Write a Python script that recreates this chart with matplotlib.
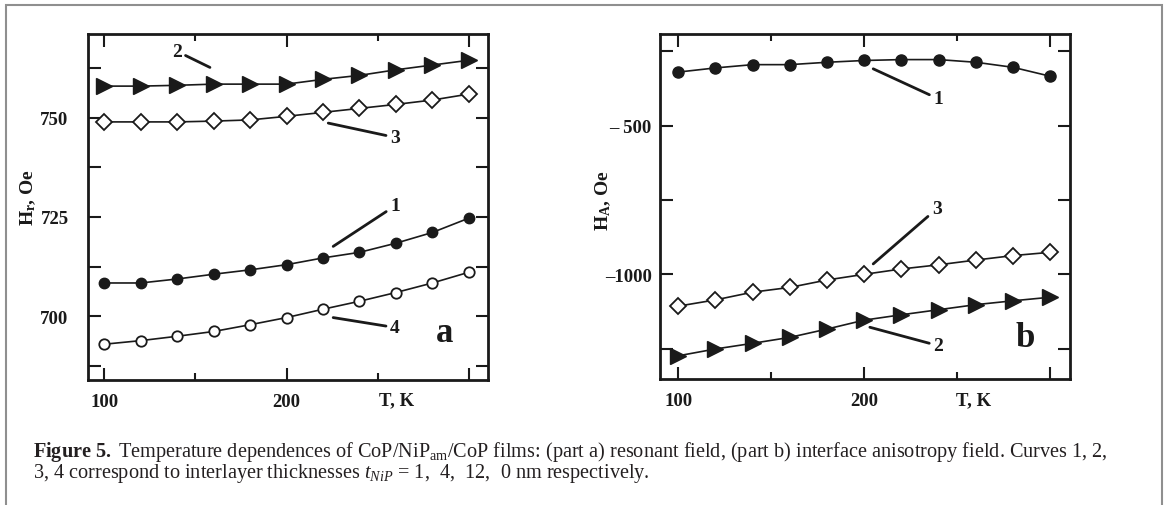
import matplotlib
matplotlib.use('Agg')
import matplotlib.pyplot as plt
from matplotlib.patches import Rectangle

# Temperature points (K)
T = [100, 120, 140, 160, 180, 200, 220, 240, 260, 280, 300]

# Panel a: resonant field Hr (Oe)
hr_1 = [708.4, 708.4, 709.4, 710.6, 711.7, 713.0, 714.7, 716.1, 718.4, 721.1, 724.7]
hr_2 = [757.9, 757.9, 758.1, 758.4, 758.4, 758.4, 759.6, 760.6, 762.0, 763.2, 764.4]
hr_3 = [748.9, 748.9, 748.9, 749.1, 749.4, 750.3, 751.3, 752.3, 753.3, 754.4, 755.9]
hr_4 = [693.0, 693.9, 695.0, 696.2, 697.9, 699.7, 701.8, 703.8, 706.0, 708.4, 711.1]

# Panel b: interface anisotropy field HA (Oe)
ha_1 = [-320, -306, -295, -295, -287, -281, -278, -278, -287, -304, -334]
ha_2 = [-1274, -1251, -1232, -1212, -1184, -1154, -1136, -1119, -1102, -1089, -1077]
ha_3 = [-1107, -1086, -1060, -1044, -1019, -1000, -982, -968, -952, -937, -926]

# fonts
plt.rcParams['font.family'] = ['Liberation Serif', 'DejaVu Serif']
plt.rcParams['mathtext.fontset'] = 'custom'
plt.rcParams['mathtext.rm'] = 'Liberation Serif'
plt.rcParams['mathtext.it'] = 'Liberation Serif:italic'
plt.rcParams['mathtext.bf'] = 'Liberation Serif:bold'

fig = plt.figure(figsize=(11.68, 5.06), dpi=100)
ax_a = fig.add_axes([0.0753, 0.247, 0.3425, 0.6838])
ax_b = fig.add_axes([0.5651, 0.249, 0.3510, 0.6818])

ink = '#1a1a1a'
line_kw = dict(color=ink, lw=1.2)


def style_axes(ax):
    for sp in ax.spines.values():
        sp.set_linewidth(2.0)
        sp.set_color(ink)
    ax.tick_params(which='both', direction='in', top=True, right=True,
                   colors=ink, width=1.5, labelsize=13.5)
    ax.tick_params(which='major', length=9)
    ax.tick_params(axis='x', which='minor', length=5)
    ax.tick_params(axis='y', which='minor', length=9)
    ax.set_xticks([100, 200, 300], ['100', '200', ''])
    ax.set_xticks([150, 250], minor=True)
    ax.tick_params(axis='x', pad=9)
    for lbl in ax.get_xticklabels():
        lbl.set_fontweight('bold')


def callout(ax, label, text_xy, end_xy):
    ax.annotate(label, xy=end_xy, xytext=text_xy, fontsize=14, fontweight='bold',
                color=ink, ha='center', va='center',
                arrowprops=dict(arrowstyle='-', lw=2.0, color=ink, shrinkA=1, shrinkB=0))


# ---------------- panel a ----------------
ax = ax_a
ax.plot(T, hr_2, marker='>', ms=11, mfc=ink, mec=ink, **line_kw)
ax.plot(T, hr_3, marker='D', ms=8, mfc='white', mec=ink, mew=1.3, **line_kw)
ax.plot(T, hr_1, marker='o', ms=7.5, mfc=ink, mec=ink, **line_kw)
ax.plot(T, hr_4, marker='o', ms=7.5, mfc='white', mec=ink, mew=1.3, **line_kw)
ax.set_xlim(91.1, 310.5)
ax.set_ylim(684, 771)
style_axes(ax)
ax.set_yticks([700, 725, 750], ['700', '725', '750'])
ax.set_yticks([687.5, 712.5, 737.5, 762.5], minor=True)
ax.tick_params(axis='y', pad=14)
for lbl in ax.get_yticklabels():
    lbl.set_fontweight('bold')
ax.set_ylabel(r'$\mathbf{H_r}$, Oe', fontsize=14, fontweight='bold', color=ink)
ax.yaxis.set_label_coords(-0.125, 0.53)
ax.set_xlabel('T, K', fontsize=13.5, fontweight='bold', color=ink)
ax.xaxis.set_label_coords(0.772, -0.033)

callout(ax, '2', (139.7, 766.7), (158, 762.6))
callout(ax, '3', (259.5, 745.0), (222.9, 748.6))
callout(ax, '1', (259.5, 727.8), (225.6, 717.6))
callout(ax, '4', (259.5, 697.2), (225.6, 699.7))
ax.text(286.9, 696, 'a', fontsize=25, fontweight='bold', color=ink, ha='center', va='center')

# ---------------- panel b ----------------
ax = ax_b
ax.plot(T, ha_1, marker='o', ms=8, mfc=ink, mec=ink, **line_kw)
ax.plot(T, ha_3, marker='D', ms=8, mfc='white', mec=ink, mew=1.3, **line_kw)
ax.plot(T, ha_2, marker='>', ms=11, mfc=ink, mec=ink, **line_kw)
ax.set_xlim(90.2, 310.6)
ax.set_ylim(-1352, -192)
style_axes(ax)
ax.set_yticks([-1000, -500], ['\u20131000', '\u2013 500'])
ax.set_yticks([-1250, -750, -250], minor=True)
ax.tick_params(axis='y', pad=6)
for lbl in ax.get_yticklabels():
    lbl.set_fontweight('bold')
ax.set_ylabel(r'$\mathbf{H_A}$, Oe', fontsize=14, fontweight='bold', color=ink)
ax.yaxis.set_label_coords(-0.115, 0.52)
ax.set_xlabel('T, K', fontsize=13.5, fontweight='bold', color=ink)
ax.xaxis.set_label_coords(0.764, -0.036)

callout(ax, '1', (239.8, -410), (204.8, -309))
callout(ax, '3', (238.9, -780), (204.8, -965))
callout(ax, '2', (239.8, -1240), (203, -1178))
ax.text(286.4, -1212, 'b', fontsize=25, fontweight='bold', color=ink, ha='center', va='center')

# frame around figure + caption
fig.patches.append(Rectangle((6 / 1168, -0.05), 1156 / 1168, 1.05 - 6 / 506,
                             transform=fig.transFigure, fill=False,
                             edgecolor='#8f8f8f', lw=1.5, clip_on=False))
cap_col = '#231f20'
fig.text(0.0283, 0.0974,
         r'$\mathbf{Figure\ 5.}$ Temperature dependences of CoP/NiP$_{\rm am}$/CoP films: '
         r'(part a) resonant field, (part b) interface anisotropy field. Curves 1, 2,',
         fontsize=14.6, color=cap_col, ha='left', va='baseline')
fig.text(0.0283, 0.0553,
         r'3, 4 correspond to interlayer thicknesses $t_{NiP}$ = 1,  4,  12,  0 nm respectively.',
         fontsize=14.6, color=cap_col, ha='left', va='baseline')

fig.savefig('out.png', dpi=100)
